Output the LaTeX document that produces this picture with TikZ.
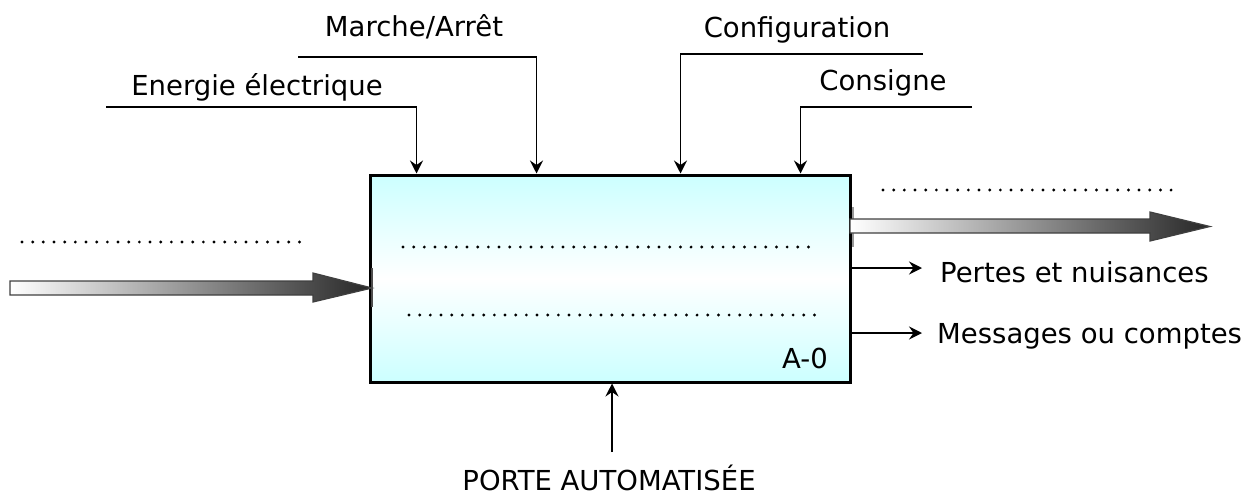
\documentclass[tikz,border=0pt]{standalone}
\usepackage{fontspec}
\setmainfont{DejaVu Sans}
\usetikzlibrary{arrows.meta,calc,positioning}
\definecolor{boxcyan}{RGB}{204,255,255}

\begin{document}
\begin{tikzpicture}[x=1pt,y=-1pt,
  lbl/.style={font=\fontsize{27.5}{33}\selectfont, inner sep=0pt, anchor=base},
  flow/.style={line width=1.6pt, -{Stealth[length=13pt,width=13pt,inset=4.5pt]}},
  dotrow/.style={line width=3.2pt, line cap=round, dash pattern=on 0pt off 10.67pt},
  bigarrow/.style={draw=black!75, line width=1.2pt, left color=white, right color=black!85}]
\useasboundingbox (0,0) rectangle (1248,496);
\draw[line width=3pt, black!40] (852,207) -- (852,247);
\node[draw, line width=3pt, minimum width=480pt, minimum height=207pt, inner sep=0pt, top color=boxcyan, bottom color=boxcyan, middle color=white] (A0) at (610,278.5) {};
\draw[bigarrow] (10,281) -- (313,281) -- (313,273) -- (372,288) -- (313,302) -- (313,295) -- (10,295) -- cycle;
\draw[bigarrow] (850,219) -- (1150,219) -- (1150,212) -- (1210,226.5) -- (1150,241) -- (1150,233) -- (850,233) -- cycle;
\draw[line width=2pt, black!70] (372,268) -- (372,307);
\node[lbl] (energie) at (257,95) {Energie électrique};
\node[lbl] (marche) at (414,36) {Marche/Arrêt};
\node[lbl] (config) at (797,37) {Configuration};
\node[lbl] (consigne) at (883,90) {Consigne};
\node[lbl] (porte) at (609,490) {PORTE AUTOMATISÉE};
\node[lbl] (numero) at (805,368) {A-0};
\node[lbl, anchor=base west] (pertes) at (940,282) {Pertes et nuisances};
\node[lbl, anchor=base west] (messages) at (937,343) {Messages ou comptes};
\coordinate (eeIn) at (106,107);
\coordinate (maIn) at (298,57);
\coordinate (coIn) at (923,54);
\coordinate (csIn) at (972,107);
\coordinate (porteUp) at (612,452);
\coordinate (pertesOut) at (922,268);
\coordinate (messagesOut) at (922,333);
\draw[flow] (eeIn) -| ($(A0.north west)+(48,0)$);
\draw[flow] (maIn) -| ($(A0.north west)+(168,0)$);
\draw[flow] (coIn) -| ($(A0.north west)+(312,0)$);
\draw[flow] (csIn) -| ($(A0.north west)+(432,0)$);
\draw[flow] (porteUp) -- (porteUp |- A0.south);
\draw[flow] (A0.east |- pertesOut) -- (pertesOut);
\draw[flow] (A0.east |- messagesOut) -- (messagesOut);
\draw[dotrow] (22,242) -- (310,242);
\draw[dotrow] (403,247) -- (819,247);
\draw[dotrow] (409,315) -- (825,315);
\draw[dotrow] (883,190) -- (1173,190);
\end{tikzpicture}
\end{document}
